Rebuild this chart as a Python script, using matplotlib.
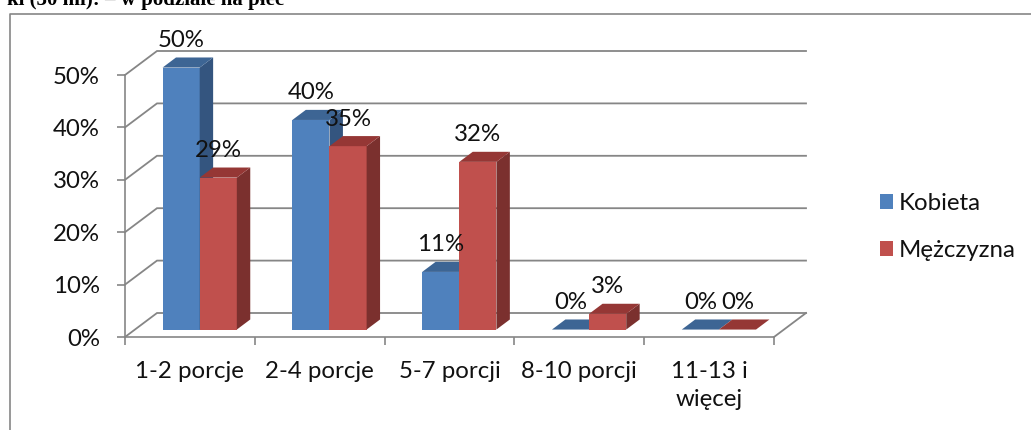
import matplotlib
matplotlib.use("Agg")
from matplotlib import pyplot as plt
from matplotlib.lines import Line2D
from matplotlib.patches import Patch, Polygon

categories = ["1-2 porcje", "2-4 porcje", "5-7 porcji", "8-10 porcji", "11-13 i\nwięcej"]
kobieta = [50, 40, 11, 0, 0]
mezczyzna = [29, 35, 32, 3, 0]
y_ticks = [0, 10, 20, 30, 40, 50]
title = "ki (30 ml): – w podziale na płeć"

W, H = 1031, 430
GREY = "#868686"
FONT = "Lato"
FS = 17.3

# plot box in pixels (front plane of the fake 3d chart)
LEFT, RIGHT, BOTTOM, TOP = 125, 774, 337, 75
xpx = (RIGHT - LEFT) / 5.0
ypx = (BOTTOM - TOP) / 50.0

# depth of the floor, in data units
DX = 32 / xpx
DY = 24 / ypx
BAR_W = 0.286
GAP = 0.213
D0, D1 = 0.31, 0.73

plt.rcParams["font.family"] = [FONT, "DejaVu Sans"]

fig = plt.figure(figsize=(W / 100, H / 100), dpi=100)
ax = fig.add_axes([LEFT / W, 1 - BOTTOM / H, (RIGHT - LEFT) / W, (BOTTOM - TOP) / H])
ax.set_xlim(0, 5)
ax.set_ylim(0, 50)
ax.patch.set_visible(False)

for s in ["top", "right"]:
    ax.spines[s].set_visible(False)
for s in ["left", "bottom"]:
    ax.spines[s].set_color(GREY)
    ax.spines[s].set_linewidth(1.2)

ax.set_xticks(range(6))
ax.set_xticklabels([])
ax.set_xticks([i + 0.5 for i in range(5)], minor=True)
ax.set_xticklabels(categories, minor=True, fontsize=FS, color="#111111", linespacing=1.41, va="top")
ax.tick_params(axis="x", which="major", length=5.5, width=1.2, color=GREY)
ax.tick_params(axis="x", which="minor", length=0, pad=17)
ax.set_yticks(y_ticks)
ax.set_yticklabels([f"{v}%" for v in y_ticks], fontsize=FS, color="#111111")
ax.tick_params(axis="y", length=5.5, width=1.2, color=GREY, pad=12.5)

# walls and floor lines
for v in y_ticks:
    ax.plot([0, DX, 5 + DX], [v, v + DY, v + DY], color=GREY, lw=1.3, clip_on=False, zorder=1, solid_joinstyle="miter")
ax.plot([5, 5 + DX], [0, DY], color=GREY, lw=1.3, clip_on=False, zorder=1)


def draw_bar(x0, val, front, side, top, z):
    x1 = x0 + BAR_W
    bx, by = D0 * DX, D0 * DY
    ex, ey = D1 * DX, D1 * DY
    y0 = by
    y1 = by + val
    if val > 0:
        ax.add_patch(Polygon([(x0 + bx, y0), (x1 + bx, y0), (x1 + bx, y1), (x0 + bx, y1)], fc=front, ec="none", clip_on=False, zorder=z))
        ax.add_patch(Polygon([(x1 + bx, y0), (x1 + ex, ey), (x1 + ex, ey + val), (x1 + bx, y1)], fc=side, ec="none", clip_on=False, zorder=z))
    ax.add_patch(Polygon([(x0 + bx, y1), (x1 + bx, y1), (x1 + ex, ey + val), (x0 + ex, ey + val)], fc=top, ec="none", clip_on=False, zorder=z))
    ax.annotate(f"{val}%", (x0 + bx + BAR_W / 2, y1), xytext=(0, 19.5), textcoords="offset points",
                ha="center", va="center", fontsize=FS, color="#111111", zorder=20, annotation_clip=False)


for i in range(5):
    draw_bar(i + GAP, kobieta[i], "#4F81BD", "#34557F", "#3D6594", 3 + i)
    draw_bar(i + GAP + BAR_W, mezczyzna[i], "#C0504D", "#7B302E", "#953735", 3 + i)

handles = [Patch(fc="#4F81BD", label="Kobieta"), Patch(fc="#C0504D", label="Mężczyzna")]
fig.legend(handles=handles, loc="center left", bbox_to_anchor=(880 / W, 1 - 227 / H), frameon=False,
           fontsize=FS, handlelength=0.55, handleheight=0.55, handletextpad=0.25, labelspacing=1.08,
           labelcolor="#111111", borderpad=0, borderaxespad=0)

# chart frame, runs off the right and bottom edge of the crop
fig.add_artist(Line2D([9.5 / W, 9.5 / W, 1], [0, 1 - 14 / H, 1 - 14 / H], color=GREY, lw=1.2))

# heading is cut by the top edge in the reference too
fig.text(7 / W, 1 - 5.5 / H, title, family="Liberation Serif", weight="bold", fontsize=15, color="black", va="baseline")

fig.savefig("out.png", dpi=100)
